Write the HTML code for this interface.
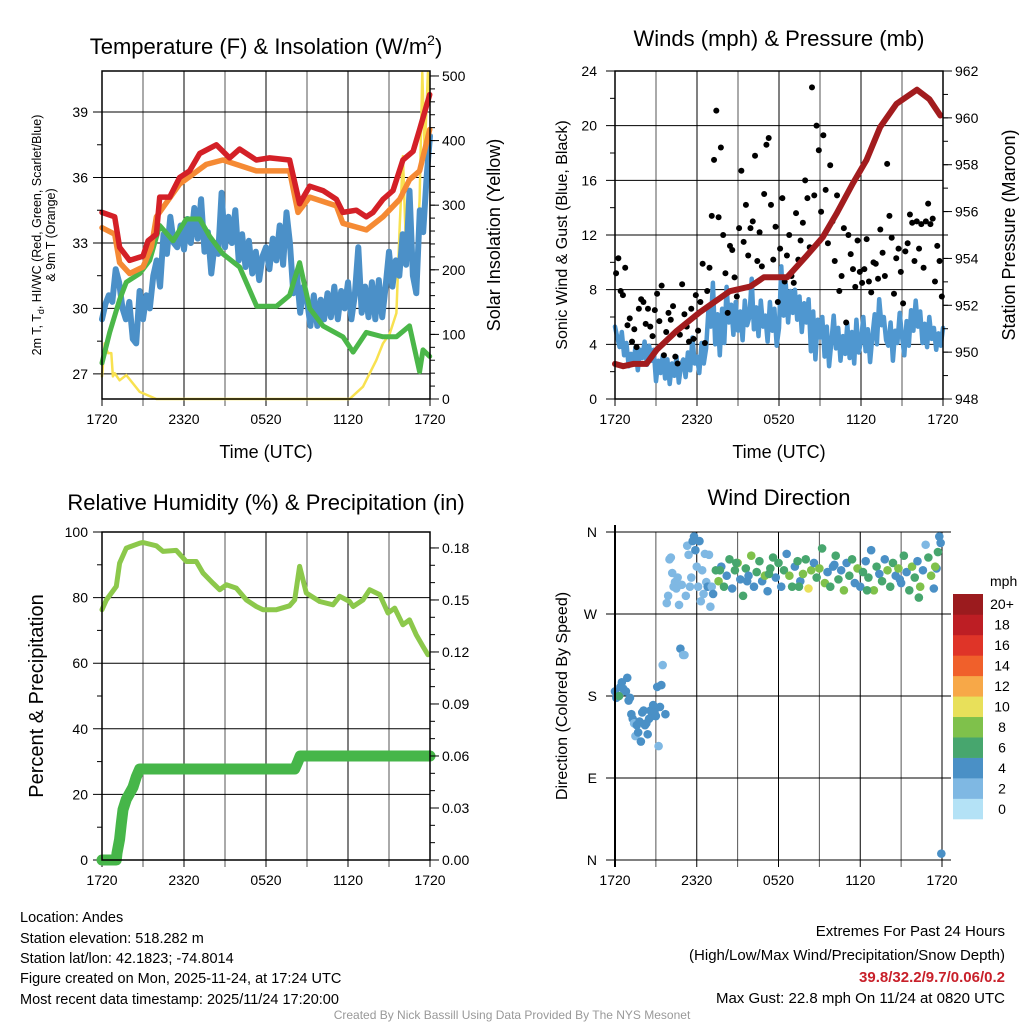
<!DOCTYPE html>
<html><head><meta charset="utf-8"><style>
body{margin:0;background:#fff;}
svg{display:block;font-family:"Liberation Sans",sans-serif;}
</style></head><body>
<svg id="fig" width="1024" height="1024" viewBox="0 0 1024 1024">
<g id="grid"></g>
<g id="marks"></g>
<g id="axes"></g>
<text x="266" y="54" font-size="22" text-anchor="middle">Temperature (F) &amp; Insolation (W/m<tspan font-size="14" dy="-9">2</tspan><tspan dy="9">)</tspan></text>
<text x="779" y="46" font-size="22" text-anchor="middle">Winds (mph) &amp; Pressure (mb)</text>
<text x="266" y="510" font-size="22" text-anchor="middle">Relative Humidity (%) &amp; Precipitation (in)</text>
<text x="779" y="505" font-size="22" text-anchor="middle">Wind Direction</text>
<text x="266" y="458" font-size="18" text-anchor="middle">Time (UTC)</text>
<text x="779" y="458" font-size="18" text-anchor="middle">Time (UTC)</text>
<text transform="translate(41,235) rotate(-90)" font-size="12.5" text-anchor="middle">2m T, T<tspan font-size="9" dy="3">d</tspan><tspan dy="-3">, HI/WC (Red, Green, Scarlet/Blue)</tspan></text>
<text transform="translate(55,235) rotate(-90)" font-size="12.5" text-anchor="middle">&amp; 9m T (Orange)</text>
<text transform="translate(500,235) rotate(-90)" font-size="18" text-anchor="middle">Solar Insolation (Yellow)</text>
<text transform="translate(567,235) rotate(-90)" font-size="16" text-anchor="middle">Sonic Wind &amp; Gust (Blue, Black)</text>
<text transform="translate(1015,235) rotate(-90)" font-size="18" text-anchor="middle">Station Pressure (Maroon)</text>
<text transform="translate(43,696) rotate(-90)" font-size="20" text-anchor="middle">Percent &amp; Precipitation</text>
<text transform="translate(567,696) rotate(-90)" font-size="16" text-anchor="middle">Direction (Colored By Speed)</text>
<g font-size="14.5">
<text x="20" y="922">Location: Andes</text>
<text x="20" y="943">Station elevation: 518.282 m</text>
<text x="20" y="963">Station lat/lon: 42.1823; -74.8014</text>
<text x="20" y="983">Figure created on Mon, 2025-11-24, at 17:24 UTC</text>
<text x="20" y="1004">Most recent data timestamp: 2025/11/24 17:20:00</text>
</g>
<g font-size="15" text-anchor="end">
<text x="1005" y="936">Extremes For Past 24 Hours</text>
<text x="1005" y="960">(High/Low/Max Wind/Precipitation/Snow Depth)</text>
<text x="1005" y="982" fill="#c8202a" font-weight="bold">39.8/32.2/9.7/0.06/0.2</text>
<text x="1005" y="1003">Max Gust: 22.8 mph On 11/24 at 0820 UTC</text>
</g>
<text x="512" y="1019" font-size="12" fill="#999" text-anchor="middle">Created By Nick Bassill Using Data Provided By The NYS Mesonet</text>
</svg>
<script>
// ---- Temperature panel data (hours since 1720 UTC) ----
const redT=[0,0.93,1.29,2.02,3.0,3.37,3.98,4.22,4.95,5.68,6.41,7.15,8.37,9.34,10.07,11.29,12.27,13.73,14.46,15.2,16.17,17.15,17.63,18.61,19.34,19.83,20.56,21.29,22.02,22.76,23.24,23.98];
const redV=[34.4,34.2,32.8,32.2,32.4,33.1,33.4,35.1,35.1,36.0,36.3,37.1,37.5,36.9,37.3,36.8,36.9,36.8,34.8,35.6,35.4,35.0,34.4,34.5,34.2,34.4,35.0,35.4,36.8,37.2,38.2,39.8];
const orT=[0,0.93,1.29,2.02,3.0,3.61,3.98,5.68,7.63,8.85,11.29,13.73,14.34,15.2,17.15,17.63,19.34,20.56,21.78,22.5,23.24,23.98];
const orV=[33.7,33.4,32.1,31.6,31.9,32.8,34.2,35.7,36.6,36.8,36.3,36.3,34.4,35.1,34.7,33.9,33.6,34.2,35.0,35.9,36.3,38.2];
const grT=[0,0.56,1.29,1.78,2.76,3.49,4.22,5.2,6.17,7.15,7.88,8.85,10.07,11.32,12.76,13.73,14.46,15.2,16.17,17.63,18.37,19.34,20.56,21.54,22.5,23.24,23.49,23.98];
const grV=[27.5,28.9,30.4,31.2,31.6,32.2,33.8,33.1,34.1,34.1,33.3,32.5,31.9,30.1,30.1,30.6,32.1,30.0,29.2,28.7,28.0,28.9,28.7,28.7,29.2,27.1,28.1,27.8];
const blStepHours=0.25;
const blV=[29.5,30.2,30.6,30.3,31.8,31.2,30.0,29.5,30.3,28.6,28.4,30.8,29.5,30.6,30.0,31.5,32.2,31.0,33.4,32.5,34.2,33.0,32.8,33.8,32.7,34.1,33.0,34.6,33.2,35.0,32.6,33.5,31.6,33.0,32.5,35.3,32.8,34.2,33.0,34.5,32.2,33.4,31.9,33.1,31.6,32.6,31.3,32.4,32.8,31.8,33.2,32.2,33.8,32.0,34.4,33.0,30.7,31.6,29.8,31.0,30.4,29.2,30.6,29.2,30.4,29.5,30.7,29.6,31.0,29.5,30.8,30.0,31.2,29.5,30.6,32.8,29.8,31.0,29.6,31.2,29.5,31.3,29.6,31.0,32.6,31.0,32.2,31.5,33.4,32.0,35.4,31.5,30.7,34.5,33.5,36.0,37.9];
const solT=[0,0.2,0.44,0.68,0.8,0.93,1.29,1.78,2.76,3.98,6.41,18.12,19.1,20.07,20.56,21.05,21.54,21.78,22.02,22.27,22.5,22.87,23.24,23.44,23.61,23.85,23.98];
const solV=[35,86,71,71,35,40,29,37,11,0,0,0,19,60,86,101,133,268,376,215,256,163,308,505,381,505,460];
const tempTicks=[27,30,33,36,39];
const solTicks=[0,100,200,300,400,500];
const timeLabels=["1720","2320","0520","1120","1720"];
// ---- Wind panel data ----
const presT=[0,0.6,1.34,2.3,3.05,4.5,6.2,8.4,9.9,10.9,12.6,14,15.2,16.2,17.4,18.4,19.4,20.6,22.1,23,23.8];
const presV=[949.5,949.4,949.5,949.5,950.1,950.9,951.7,952.6,952.8,953.2,953.2,954.1,954.9,955.9,957.2,958.2,959.6,960.6,961.2,960.8,960.1];
const windV=[5.3,4.5,3.8,4.9,3.2,4.1,2.4,3.3,2.6,3.8,2.1,3.6,3.0,4.2,2.5,3.9,2.8,3.6,1.3,2.8,1.9,3.2,1.5,2.9,1.1,2.6,1.7,3.1,1.2,2.5,2.9,1.6,3.4,2.1,4.5,2.6,3.1,1.9,4.1,2.6,3.7,6.5,5.3,8.5,4.0,6.2,3.2,6.6,4.1,8.2,5.6,6.9,4.7,7.1,5.0,6.4,4.3,7.2,5.4,6.0,8.8,5.1,6.7,4.6,7.2,5.3,6.1,4.2,7.1,5.0,6.6,3.9,5.2,9.7,6.1,8.4,5.6,7.9,6.3,8.0,5.8,7.5,4.9,7.0,5.6,7.3,3.5,6.4,2.9,5.8,4.5,6.0,3.1,5.3,2.4,4.2,6.1,3.7,5.2,2.8,4.6,3.3,5.5,3.0,4.9,2.6,5.8,3.4,4.2,6.0,3.5,5.1,2.7,4.6,6.2,4.0,7.3,5.4,6.0,4.3,3.9,5.6,2.8,5.0,4.1,6.3,4.6,3.2,5.7,3.9,6.5,5.0,7.2,5.3,6.4,4.1,5.5,3.8,6.0,4.4,5.2,3.6,4.8,3.9,5.2];
const gustV=[9.2,10.3,7.9,7.6,9.6,5.4,5.9,4.2,5.1,3.8,6.6,7.3,7.1,5.5,6.6,5.3,4.6,6.5,7.7,5.7,8.3,3.2,4.9,6.3,5.8,6.8,3.1,2.6,4.7,8.4,6.2,5.3,4.2,6.6,4.4,7.6,5.0,7.1,9.9,4.1,7.9,9.6,13.4,17.5,21.1,13.3,18.4,12.0,9.2,6.3,11.2,10.9,8.9,7.5,12.5,16.7,11.5,14.2,10.5,12.5,13.0,17.8,10.1,12.2,9.7,15.0,18.6,19.1,14.2,10.2,12.6,7.1,11.0,14.7,8.6,10.5,12.0,9.0,8.5,13.6,10.2,11.6,12.9,16.0,14.7,11.1,22.8,14.9,20.0,18.2,13.7,19.3,15.3,11.4,17.1,13.0,10.1,14.9,7.9,9.0,12.5,5.6,12.0,10.6,9.5,8.2,11.6,9.3,8.5,9.5,11.7,8.6,7.8,10.0,9.9,8.8,12.4,10.7,9.0,17.2,13.4,11.8,7.7,10.3,11.0,9.3,7.0,10.8,11.4,13.5,12.9,10.1,13.0,11.0,12.8,9.6,13.0,14.3,12.8,13.2,8.6,11.2,10.1,7.5];
const windStepHours=1/6;
const windTicks=[0,4,8,12,16,20,24];
const presTicks=[948,950,952,954,956,958,960,962];
// ---- Humidity panel data ----
const rhT=[0,0.32,1.05,1.29,1.78,2.76,3.0,3.98,4.46,5.44,6.17,6.9,7.39,8.12,8.61,9.1,9.83,10.56,11.29,11.78,12.76,13.73,14.1,14.46,14.95,15.93,16.9,17.39,18.12,18.37,19.1,19.59,20.32,20.93,21.42,22.02,22.5,22.99,23.49,23.85];
const rhV=[76.3,79.3,83.4,90.5,95.1,96.6,96.8,95.8,94.1,94.4,91.0,91.0,87.5,84.4,82.4,83.9,82.9,79.3,77.3,76.3,76.3,77.5,79.3,89.5,81.4,78.8,77.8,80.4,78.8,77.3,79.3,82.4,80.9,75.3,76.8,71.7,73.2,68.7,65.1,62.6];
const prT=[0,1.05,1.1,1.29,1.41,1.54,1.78,2.27,2.51,2.76,14.1,14.3,14.5,24];
const prV=[0,0,0.004,0.012,0.021,0.029,0.035,0.042,0.048,0.0525,0.0525,0.056,0.06,0.06];
const rhTicks=[0,20,40,60,80,100];
const prTicks=[0,0.03,0.06,0.09,0.12,0.15,0.18];
// ---- Wind direction data ----
const dirT=[0,0.1,0.3,0.4,0.5,0.6,0.8,0.9,1.0,1.1,1.2,1.3,1.4,1.5,1.6,1.7,1.8,1.9,2.0,2.1,2.2,2.3,2.4,2.5,2.6,2.7,2.8,2.9,3.0,3.1,3.2,3.3,3.4,3.5,3.7,3.8,3.9,4.0,4.1,4.2,4.3,4.4,4.5,4.6,4.7,4.8,4.9,5.0,5.1,5.2,5.3,5.4,5.5,5.6,5.7,5.8,5.9,6.0,6.1,6.2,6.3,6.4,6.5,6.6,6.7,6.8,6.9,7.0,7.1,7.2,7.4,7.6,7.8,8.0,8.2,8.4,8.6,8.8,9.0,9.2,9.4,9.6,9.8,10.0,10.2,10.4,10.6,10.8,11.0,11.2,11.4,11.6,11.8,12.0,12.2,12.4,12.6,12.8,13.0,13.2,13.4,13.6,13.8,14.0,14.2,14.4,14.6,14.8,15.0,15.2,15.4,15.6,15.8,16.0,16.2,16.4,16.6,16.8,17.0,17.2,17.4,17.6,17.8,18.0,18.2,18.4,18.6,18.8,19.0,19.2,19.4,19.6,19.8,20.0,20.2,20.4,20.6,20.8,21.0,21.2,21.4,21.6,21.8,22.0,22.2,22.4,22.6,22.8,23.0,23.2,23.4,23.6,23.8,23.9,23.95,23.7,23.5,22.3,20.9,18.5,16.1,13.5,11.3,9.7,8.9,7.7];
const dirV=[185,178,180,190,195,188,185,200,175,178,160,155,150,136,148,140,152,130,162,164,148,150,138,155,164,158,170,162,158,190,125,168,192,214,160,282,290,330,332,315,300,305,298,310,280,232,302,225,225,290,345,335,300,310,350,355,340,322,300,350,284,318,292,336,305,300,335,278,300,292,318,306,322,300,312,330,298,318,326,308,290,320,312,334,300,316,328,306,312,295,320,332,310,326,300,318,336,312,300,322,328,306,314,330,298,318,326,310,320,342,304,316,300,322,334,308,318,296,326,312,330,304,320,300,316,328,310,340,296,322,314,306,330,318,300,326,312,320,304,334,316,296,322,310,328,300,318,346,332,312,298,320,355,348,7,338,322,288,308,296,324,300,314,306,326,318,302];
const dirS=[4,4,6,4,4,3,4,3,3,3,4,3,2,2,3,3,4,3,3,4,4,4,4,3,4,3,3,3,3,3,1,3,3,1,3,2,2,2,2,2,2,2,2,2,2,3,2,2,2,2,2,2,2,2,3,3,3,2,2,3,2,1,2,2,2,4,2,2,2,3,5,7,4,5,3,6,4,5,7,4,6,5,3,7,4,5,6,4,7,3,5,6,4,5,4,6,3,7,5,4,6,3,8,5,9,7,4,6,8,5,7,3,6,4,5,6,3,7,4,5,6,3,7,4,5,3,6,4,7,5,3,6,4,7,5,6,3,7,4,6,3,5,7,6,4,7,3,2,5,8,4,3,4,4,3,6,7,5,4,6,3,5,6,4,6,5];
const dirTicks=[0,90,180,270,360];
const dirLabels=["N","E","S","W","N"];
const cbLabels=["0","2","4","6","8","10","12","14","16","18","20+"];
const cbColors=["#b4e2f6","#7fb8e3","#4a90c6","#47a66e","#7fc14b","#e8e05a","#f7a848","#f0602b","#df3428","#bd1e24","#9b1b1e"];

const NS="http://www.w3.org/2000/svg";
const G=document.getElementById('grid'),M=document.getElementById('marks'),A=document.getElementById('axes');
function mk(par,tag,at){const e=document.createElementNS(NS,tag);for(const k in at)e.setAttribute(k,at[k]);par.appendChild(e);return e;}
function lin(d0,d1,r0,r1){return v=>r0+(v-d0)/(d1-d0)*(r1-r0);}
const P1={x0:102,x1:430,y0:71,y1:399},P2={x0:615,x1:943,y0:71,y1:399},P3={x0:102,x1:430,y0:532,y1:860},P4={x0:615,x1:942,y0:532,y1:860};
function xs(p){return lin(0,24,p.x0,p.x1);}
function poly(xa,ya,xf,yf,col,w,name){
  const pts=xa.map((t,i)=>xf(t).toFixed(1)+','+yf(ya[i]).toFixed(1)).join(' ');
  const e=mk(M,'polyline',{points:pts,fill:'none',stroke:col,'stroke-width':w,'stroke-linejoin':'round','stroke-linecap':'round'});
  
  
}
function vgrid(p,frame){
  const x=xs(p);
  for(let h=0;h<=24;h+=3){const l=mk(G,'line',{x1:x(h),x2:x(h),y1:p.y0,y2:p.y1+7,stroke:h%6==0?'#000':'#555','stroke-width':1});
    
    }
  timeLabels.forEach((s,i)=>{const t=mk(A,'text',{x:x(i*6),y:p.y1+25,'font-size':14,'text-anchor':'middle'});t.textContent=s;
    
    });
}
function hgrid(p,ticks,yf,labels,lx,minor){
  ticks.forEach((v,i)=>{const y=yf(v);const l=mk(G,'line',{x1:p.x0-9,x2:p.x1+(p.noframe?9:0),y1:y,y2:y,stroke:'#000','stroke-width':1});
    
    
    const t=mk(A,'text',{x:lx,y:y+5,'font-size':14,'text-anchor':'end'});t.textContent=labels?labels[i]:v;
    
    });
  if(minor){for(let i=0;i<ticks.length-1;i++){const y=yf((ticks[i]+ticks[i+1])/2);mk(A,'line',{x1:p.x0-5,x2:p.x0,y1:y,y2:y,stroke:'#000'});}}
}
function rticks(p,ticks,yf,fmt,minorStep){
  const lo=ticks[0],hi=ticks[ticks.length-1];
  if(minorStep){for(let v=lo;v<=hi+1e-9;v+=minorStep){const y=yf(v);if(y>=p.y0-1)mk(A,'line',{x1:p.x1,x2:p.x1+5,y1:y,y2:y,stroke:'#000'});}}
  ticks.forEach(v=>{const y=yf(v);mk(A,'line',{x1:p.x1,x2:p.x1+9,y1:y,y2:y,stroke:'#000'});
    const t=mk(A,'text',{x:p.x1+12,y:y+5,'font-size':14});t.textContent=fmt(v);
    
    });
}
function frame(p,name){const r=mk(A,'rect',{x:p.x0,y:p.y0,width:p.x1-p.x0,height:p.y1-p.y0,fill:'none',stroke:'#000','stroke-width':1.5});
  
  }

// Panel 1
{const x=xs(P1),yT=lin(25.85,40.88,P1.y1,P1.y0),yS=lin(0,507.7,P1.y1,P1.y0);
 vgrid(P1,true);hgrid(P1,tempTicks,yT,null,88,true);rticks(P1,solTicks,yS,v=>v,20);frame(P1,'temperature-plot-frame');
 poly(solT,solV,x,yS,'#f8e150',2.5,'solar-insolation-line');
 const blT=blV.map((v,i)=>i*blStepHours);
 poly(blT,blV,x,yT,'#4b90c8',6,'scarlet-blue-line');
 poly(grT,grV,x,yT,'#4bb749',5,'dewpoint-green-line');
 poly(orT,orV,x,yT,'#f58a34',5.5,'orange-9m-temp-line');
 poly(redT,redV,x,yT,'#d42027',5.5,'red-2m-temp-line');}
// Panel 2
{const x=xs(P2),yW=lin(0,24,P2.y1,P2.y0),yP=lin(948,962,P2.y1,P2.y0);
 vgrid(P2,true);hgrid(P2,windTicks,yW,null,597,true);rticks(P2,presTicks,yP,v=>v,1);frame(P2,'wind-plot-frame');
 const wt=windV.map((v,i)=>i*windStepHours);
 poly(wt,windV,x,yW,'#4f97d0',4.5,'sonic-wind-line');
 gustV.forEach((v,i)=>{const c=mk(M,'circle',{cx:x(i*windStepHours+0.08),cy:yW(v),r:3,fill:'#000'});
   
   });
 poly(presT,presV,x,yP,'#a21c1e',6,'station-pressure-line');}
// Panel 3
{const x=xs(P3),yR=lin(0,100,P3.y1,P3.y0),yPr=lin(0,0.1892,P3.y1,P3.y0);
 vgrid(P3,true);hgrid(P3,rhTicks,yR,null,88,true);rticks(P3,prTicks,yPr,v=>v.toFixed(2),0.01);frame(P3,'humidity-plot-frame');
 poly(rhT,rhV,x,yR,'#8cc84b',5,'relative-humidity-line');
 poly(prT,prV,x,yPr,'#46b649',11,'precipitation-line');}
// Panel 4
{P4.noframe=true;const x=xs(P4),yD=lin(0,360,P4.y1,P4.y0);
 vgrid(P4,false);hgrid(P4,dirTicks,yD,dirLabels,597,false);
 mk(A,'line',{x1:P4.x0,x2:P4.x0,y1:P4.y0-7,y2:P4.y1+7,stroke:'#000','stroke-width':2});
 dirT.forEach((t,i)=>{const ci=Math.min(10,Math.max(0,Math.floor(dirS[i]/2+0.5)));
   const c=mk(M,'circle',{cx:x(t),cy:yD(dirV[i]),r:4.3,fill:cbColors[ci]});
   
   });
 const cb=mk(A,'g',{});
 const h=225/11;
 cbColors.forEach((col,i)=>{const y=819-(i+1)*h;mk(cb,'rect',{x:953,y:y,width:30,height:h+0.3,fill:col});
   const t=mk(cb,'text',{x:1002,y:y+h/2+5,'font-size':14,'text-anchor':'middle'});t.textContent=cbLabels[i];
   
   });
 const u=mk(cb,'text',{x:990,y:586,'font-size':14});u.textContent='mph';
 
 }
</script>
</body></html>
